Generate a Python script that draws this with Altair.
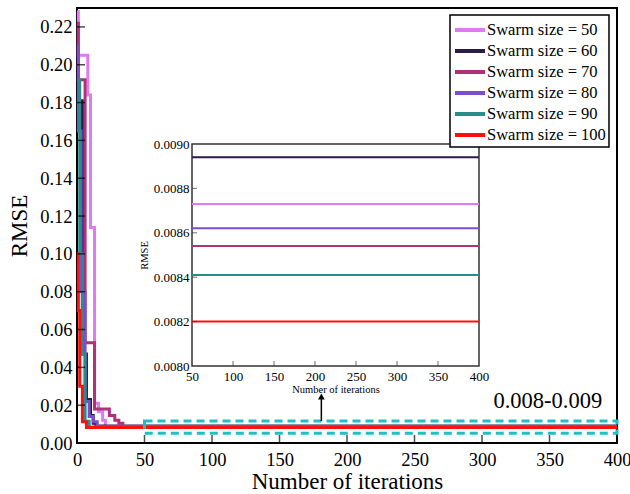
import altair as alt
import pandas as pd

FONT = "Liberation Serif"

series = ["Swarm size = 50", "Swarm size = 60", "Swarm size = 70",
          "Swarm size = 80", "Swarm size = 90", "Swarm size = 100"]
colors = ["#E07AF0", "#2B1A4C", "#B0307A", "#7B4FC9", "#2B8B8D", "#FF1010"]

iter_50 = [0, 1, 8, 10, 13, 16, 19, 21]
rmse_50 = [0.228, 0.205, 0.184, 0.114, 0.021, 0.0165, 0.012, 0.00873]
iter_60 = [0, 4, 7, 10, 12, 14]
rmse_60 = [0.181, 0.047, 0.023, 0.0145, 0.0105, 0.00894]
iter_70 = [0, 1, 6, 13, 24, 28, 31, 34]
rmse_70 = [0.222, 0.192, 0.053, 0.018, 0.0145, 0.012, 0.0105, 0.00854]
iter_80 = [0, 1, 3, 6, 9, 12, 15]
rmse_80 = [0.21, 0.165, 0.08, 0.022, 0.014, 0.0112, 0.00862]
iter_90 = [0, 2, 4, 6, 9]
rmse_90 = [0.192, 0.10, 0.047, 0.0115, 0.00841]
iter_100 = [0, 1, 2, 4, 7]
rmse_100 = [0.10, 0.07, 0.03, 0.0113, 0.0082]

final_rmse = [0.00873, 0.00894, 0.00854, 0.00862, 0.00841, 0.00820]
max_iter = 400

x_ticks = [0, 50, 100, 150, 200, 250, 300, 350, 400]
y_ticks = [0.00, 0.02, 0.04, 0.06, 0.08, 0.10, 0.12, 0.14, 0.16, 0.18, 0.20, 0.22]
inset_x_ticks = [50, 100, 150, 200, 250, 300, 350, 400]
inset_y_ticks = [0.0080, 0.0082, 0.0084, 0.0086, 0.0088, 0.0090]

zoom_box_x = [50, 400]
zoom_box_y = [0.0051, 0.0116]
arrow_x = [181]
arrow_y = [0.0116, 0.0235]
arrow_head_y = [0.0246]
annot_label = ["0.008-0.009"]
annot_x = [389]
annot_y = [0.0222]

# ---- build tables ----
rows = []
all_iters = [iter_50, iter_60, iter_70, iter_80, iter_90, iter_100]
all_rmse = [rmse_50, rmse_60, rmse_70, rmse_80, rmse_90, rmse_100]
order_i = 0
for s, its, vals in zip(series, all_iters, all_rmse):
    for it, v in zip(its, vals):
        rows.append({"series": s, "iter": it, "rmse": v, "k": order_i})
        order_i += 1
    rows.append({"series": s, "iter": max_iter, "rmse": vals[-1], "k": order_i})
    order_i += 1
df_main = pd.DataFrame(rows)

inset_rows = []
for s, v in zip(series, final_rmse):
    inset_rows.append({"series": s, "iter": inset_x_ticks[0], "rmse": v})
    inset_rows.append({"series": s, "iter": inset_x_ticks[-1], "rmse": v})
df_inset = pd.DataFrame(inset_rows)

df_box = pd.DataFrame({"x0": [zoom_box_x[0]], "x1": [zoom_box_x[1]],
                       "y0": [zoom_box_y[0]], "y1": [zoom_box_y[1]]})
df_arrow = pd.DataFrame({"x": arrow_x, "y0": [arrow_y[0]], "y1": [arrow_y[1]],
                         "yh": arrow_head_y})
df_annot = pd.DataFrame({"x": annot_x, "y": annot_y, "t": annot_label})
df_xt = pd.DataFrame({"t": x_ticks[1:-1], "b": [y_ticks[0]] * (len(x_ticks) - 2)})
df_yt = pd.DataFrame({"t": y_ticks[1:], "b": [x_ticks[0]] * (len(y_ticks) - 1)})
df_inset_frame = pd.DataFrame({"x0": [inset_x_ticks[0]], "x1": [inset_x_ticks[-1]],
                               "y0": [inset_y_ticks[0]], "y1": [inset_y_ticks[-1]]})
df_ixt = pd.DataFrame({"t": inset_x_ticks[1:-1],
                       "b": [inset_y_ticks[0]] * (len(inset_x_ticks) - 2)})
df_iyt = pd.DataFrame({"t": inset_y_ticks[1:-1],
                       "b": [inset_x_ticks[0]] * (len(inset_y_ticks) - 2)})

W, H = 540, 435


def xs():
    return alt.Scale(domain=[0, 400], nice=False, zero=False)


def ys():
    return alt.Scale(domain=[0, 0.23], nice=False, zero=False)


def ixs():
    return alt.Scale(domain=[inset_x_ticks[0], inset_x_ticks[-1]], range=[115, 402],
                     nice=False, zero=False)


def iys():
    return alt.Scale(domain=[inset_y_ticks[0], inset_y_ticks[-1]], range=[358, 136],
                     nice=False, zero=False)


main_x_axis = alt.Axis(orient="bottom", values=x_ticks, title="Number of iterations",
                       grid=False, domain=False, ticks=False, labelFontSize=18.5,
                       titleFontSize=23, labelPadding=7, titlePadding=2,
                       labelFlush=False, labelFont=FONT, titleFont=FONT)
main_y_axis = alt.Axis(orient="left", values=y_ticks, format=".2f", title="RMSE",
                       grid=False, domain=False, ticks=False, labelFontSize=18.5,
                       titleFontSize=23, labelPadding=5, titlePadding=8,
                       labelFont=FONT, titleFont=FONT)

color = alt.Color("series:N", scale=alt.Scale(domain=series, range=colors),
                  legend=alt.Legend(title=None, orient="none", legendX=373, legendY=7,
                                    symbolType="M-1,0H2", symbolSize=400,
                                    symbolStrokeWidth=4, labelFontSize=16.5,
                                    labelOffset=10, padding=3, rowPadding=0,
                                    strokeColor="black", fillColor="white",
                                    labelFont=FONT, labelColor="black"))

main_lines = alt.Chart(df_main).mark_line(interpolate="step-after", strokeWidth=3).encode(
    x=alt.X("iter:Q", scale=xs(), axis=main_x_axis),
    y=alt.Y("rmse:Q", scale=ys(), axis=main_y_axis),
    color=color,
    order="k:Q",
)

box = alt.Chart(df_box).mark_rect(fillOpacity=0, stroke="#1FC0C4",
                                  strokeWidth=3, strokeDash=[8, 5]).encode(
    x=alt.X("x0:Q", scale=xs(), axis=None), x2="x1:Q",
    y=alt.Y("y0:Q", scale=ys(), axis=None), y2="y1:Q",
)

shaft = alt.Chart(df_arrow).mark_rule(color="black", strokeWidth=1.5).encode(
    x=alt.X("x:Q", scale=xs(), axis=None),
    y=alt.Y("y0:Q", scale=ys(), axis=None), y2="y1:Q",
)
head = alt.Chart(df_arrow).mark_point(shape="triangle-up", filled=True, color="black",
                                      size=45, opacity=1).encode(
    x=alt.X("x:Q", scale=xs(), axis=None),
    y=alt.Y("yh:Q", scale=ys(), axis=None),
)

annot = alt.Chart(df_annot).mark_text(font=FONT, fontSize=22.5, align="right",
                                      baseline="middle", color="black").encode(
    x=alt.X("x:Q", scale=xs(), axis=None),
    y=alt.Y("y:Q", scale=ys(), axis=None),
    text="t:N",
)

xt = alt.Chart(df_xt).mark_tick(orient="vertical", size=8, thickness=1.5,
                                color="black", yOffset=-4).encode(
    x=alt.X("t:Q", scale=xs(), axis=None),
    y=alt.Y("b:Q", scale=ys(), axis=None),
)
yt = alt.Chart(df_yt).mark_tick(orient="horizontal", size=8, thickness=1.5,
                                color="black", xOffset=4).encode(
    y=alt.Y("t:Q", scale=ys(), axis=None),
    x=alt.X("b:Q", scale=xs(), axis=None),
)

# ---- inset ----
inset_x_axis = alt.Axis(orient="bottom", offset=-77, values=inset_x_ticks, grid=False,
                        domain=False, ticks=False, labelFontSize=13,
                        title="Number of iterations", titleFontSize=10.5,
                        labelPadding=4, titlePadding=1, labelFlush=False,
                        labelFont=FONT, titleFont=FONT)
inset_y_axis = alt.Axis(orient="left", offset=-115, values=inset_y_ticks, format=".4f",
                        grid=False, domain=False, ticks=False, labelFontSize=13,
                        title="RMSE", titleFontSize=10.5, labelPadding=3,
                        titlePadding=4, labelFont=FONT, titleFont=FONT)

inset_frame = alt.Chart(df_inset_frame).mark_rect(fill="white", stroke="#333333",
                                                  strokeWidth=1.5).encode(
    x=alt.X("x0:Q", scale=ixs(), axis=inset_x_axis), x2="x1:Q",
    y=alt.Y("y0:Q", scale=iys(), axis=inset_y_axis), y2="y1:Q",
)
inset_lines = alt.Chart(df_inset).mark_line(strokeWidth=2).encode(
    x=alt.X("iter:Q", scale=ixs(), axis=None),
    y=alt.Y("rmse:Q", scale=iys(), axis=None),
    color=alt.Color("series:N", scale=alt.Scale(domain=series, range=colors), legend=None),
)
ixt = alt.Chart(df_ixt).mark_tick(orient="vertical", size=5, thickness=1,
                                  color="#333333", yOffset=-2.5).encode(
    x=alt.X("t:Q", scale=ixs(), axis=None),
    y=alt.Y("b:Q", scale=iys(), axis=None),
)
iyt = alt.Chart(df_iyt).mark_tick(orient="horizontal", size=5, thickness=1,
                                  color="#333333", xOffset=2.5).encode(
    y=alt.Y("t:Q", scale=iys(), axis=None),
    x=alt.X("b:Q", scale=ixs(), axis=None),
)

chart = alt.layer(
    main_lines, box, shaft, head, annot, xt, yt,
    inset_frame, inset_lines, ixt, iyt
).resolve_scale(
    x="independent", y="independent"
).properties(
    width=W, height=H,
    autosize=alt.AutoSizeParams(type="none"),
    padding={"left": 77, "top": 8, "right": 13, "bottom": 51},
    background="white",
).configure_view(
    stroke="black", strokeWidth=2
).configure_axis(
    labelFont=FONT, titleFont=FONT, labelColor="black", titleColor="black",
    titleFontWeight="normal"
).configure_legend(
    strokeWidth=1.5
)

chart.save("out.html", embed_options={"renderer": "svg", "actions": False})
